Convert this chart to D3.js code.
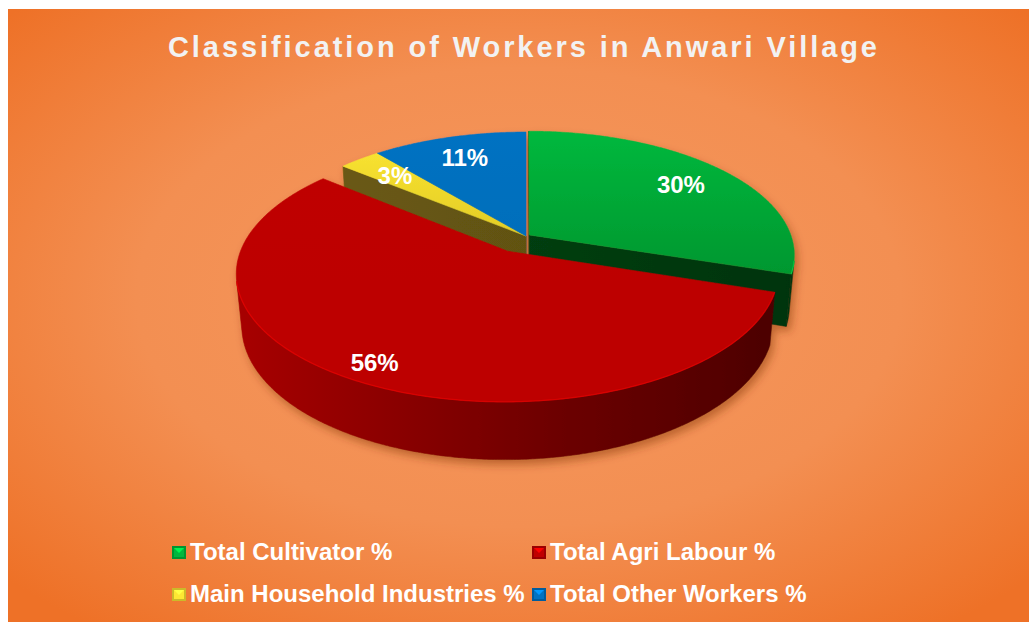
<!DOCTYPE html>
<html>
<head>
<meta charset="utf-8">
<script src="https://cdn.jsdelivr.net/npm/d3@7"></script>
<style>
  html, body { margin: 0; padding: 0; background: #ffffff; }
  svg { display: block; }
</style>
</head>
<body>
<svg id="chart" width="1029" height="622"></svg>
<script>
// ---------------- data ----------------
const title = "Classification of Workers in Anwari Village";
const categories = ["Total Cultivator %", "Total Agri Labour %", "Main Household Industries %", "Total Other Workers %"];
const values = [30, 56, 3, 11];
const valueLabels = ["30%", "56%", "3%", "11%"];

// ---------------- styles ----------------
const style = {
  "Total Cultivator %":          { top: ["#00b83d", "#00952e"], side: ["#004c16", "#00330d"], explode: 4 },
  "Total Agri Labour %":         { top: ["#c00000", "#bd0000"], side: ["#a60000", "#470000"], explode: 37 },
  "Main Household Industries %": { top: ["#fde733", "#d6bf1f"], side: ["#6e5d14", "#57490f"], explode: 0 },
  "Total Other Workers %":       { top: ["#0072c2", "#006cb8"], side: ["#004f8a", "#002f55"], explode: 0 }
};

const W = 1029, H = 622;
const svg = d3.select("#chart");
const defs = svg.append("defs");

// background
const bg = defs.append("radialGradient").attr("id", "bgGrad")
  .attr("cx", 0.5).attr("cy", 0.47).attr("r", 0.68);
bg.append("stop").attr("offset", 0).attr("stop-color", "#f5985f");
bg.append("stop").attr("offset", 0.55).attr("stop-color", "#f38f52");
bg.append("stop").attr("offset", 1).attr("stop-color", "#ee7127");
svg.append("rect").attr("x", 8).attr("y", 9).attr("width", W - 8).attr("height", H - 9)
  .attr("fill", "url(#bgGrad)");

// shadow filter
const flt = defs.append("filter").attr("id", "pieShadow")
  .attr("x", "-10%").attr("y", "-10%").attr("width", "125%").attr("height", "130%");
flt.append("feGaussianBlur").attr("in", "SourceAlpha").attr("stdDeviation", 4).attr("result", "blur");
flt.append("feOffset").attr("in", "blur").attr("dx", 3).attr("dy", 5).attr("result", "off");
flt.append("feFlood").attr("flood-color", "#7a2e00").attr("flood-opacity", 0.45).attr("result", "col");
flt.append("feComposite").attr("in", "col").attr("in2", "off").attr("operator", "in").attr("result", "shadow");
const fm = flt.append("feMerge");
fm.append("feMergeNode").attr("in", "shadow");
fm.append("feMergeNode").attr("in", "SourceGraphic");

// title
svg.append("text")
  .attr("x", 522.5).attr("y", 57)
  .attr("text-anchor", "middle")
  .attr("font-family", "'Liberation Sans', Arial, sans-serif")
  .attr("font-weight", "bold")
  .attr("font-size", 29)
  .attr("fill", "#f2f2f2")
  .attr("textLength", 709).attr("lengthAdjust", "spacing")
  .text(title);

// ---------------- 3D projection ----------------
const R = 262;            // pie radius (world units)
const depth = 58;         // pie thickness
const sinPhi = 0.461, cosPhi = Math.sqrt(1 - sinPhi * sinPhi);
const f = 1440;           // perspective distance
const cam = [0, -f * cosPhi, f * sinPhi];

const sx = d3.scaleLinear().domain([0, 1]).range([526, 527]);
const sy = d3.scaleLinear().domain([0, 1]).range([236, 235]);

function project(p) {
  const [x, y, z] = p;
  const Yp = y * sinPhi + z * cosPhi;
  const D = y * cosPhi - z * sinPhi;
  const s = f / (f + D);
  return [sx(x * s), sy(Yp * s)];
}
function depthOf(p) { return p[1] * cosPhi - p[2] * sinPhi; }

const pie = d3.pie().sort(null).startAngle(0).endAngle(2 * Math.PI).value(d => d);
const arcs = pie(values);
const line = d3.line().curve(d3.curveLinear);

const slices = arcs.map((a, i) => {
  const st = style[categories[i]];
  const mid = (a.startAngle + a.endAngle) / 2;
  const ox = st.explode * Math.sin(mid), oy = st.explode * Math.cos(mid);
  const rim = (t, z) => [ox + R * Math.sin(t), oy + R * Math.cos(t), z];
  const n = Math.max(2, Math.ceil((a.endAngle - a.startAngle) / (Math.PI / 360)));
  const thetas = d3.range(n + 1).map(k => a.startAngle + (a.endAngle - a.startAngle) * k / n);
  return { i, a, st, mid, ox, oy, rim, thetas, cat: categories[i] };
});

// gradients
slices.forEach(s => {
  const g = defs.append("linearGradient").attr("id", "side" + s.i)
    .attr("gradientUnits", "userSpaceOnUse")
    .attr("x1", sx(-R - 20)).attr("x2", sx(R + 20)).attr("y1", 0).attr("y2", 0);
  g.append("stop").attr("offset", 0).attr("stop-color", s.st.side[0]);
  g.append("stop").attr("offset", 0.55).attr("stop-color", d3.interpolateRgb(s.st.side[0], s.st.side[1])(0.6));
  g.append("stop").attr("offset", 1).attr("stop-color", s.st.side[1]);
  const t = defs.append("linearGradient").attr("id", "top" + s.i)
    .attr("gradientUnits", "userSpaceOnUse")
    .attr("x1", 0).attr("x2", 0).attr("y1", sy(R * sinPhi * 0.86)).attr("y2", sy(-R * sinPhi * 0.4));
  t.append("stop").attr("offset", 0).attr("stop-color", s.st.top[0]);
  t.append("stop").attr("offset", 1).attr("stop-color", s.st.top[1]);
});

// collect side faces
const faces = [];
slices.forEach(s => {
  const O = [s.ox, s.oy, 0];
  // radial faces
  [[s.a.startAngle, [-Math.cos(s.a.startAngle), Math.sin(s.a.startAngle)]],
   [s.a.endAngle, [Math.cos(s.a.endAngle), -Math.sin(s.a.endAngle)]]].forEach(([t, nrm]) => {
    const dot = nrm[0] * (cam[0] - O[0]) + nrm[1] * (cam[1] - O[1]);
    if (dot > 0.5) {
      const pts = [O, s.rim(t, 0), s.rim(t, -depth), [s.ox, s.oy, -depth]];
      const d = d3.mean(pts, depthOf);
      faces.push({ pts: pts.map(project), depth: d, fill: "url(#side" + s.i + ")" });
    }
  });
  // outer rim: visible runs
  let run = [];
  const runs = [];
  s.thetas.forEach(t => {
    const P = s.rim(t, 0);
    const dot = Math.sin(t) * (cam[0] - P[0]) + Math.cos(t) * (cam[1] - P[1]);
    if (dot > 0) run.push(t); else { if (run.length > 1) runs.push(run); run = []; }
  });
  if (run.length > 1) runs.push(run);
  runs.forEach(r => {
    const topPts = r.map(t => s.rim(t, 0));
    const botPts = r.map(t => s.rim(t, -depth)).reverse();
    const pts = topPts.concat(botPts);
    faces.push({ pts: pts.map(project), depth: d3.mean(pts, depthOf), fill: "url(#side" + s.i + ")" });
    s.visibleRim = (s.visibleRim || []).concat([topPts.map(project)]);
  });
});
faces.sort((a, b) => b.depth - a.depth);

const pieG = svg.append("g").attr("filter", "url(#pieShadow)");
pieG.selectAll("path.side").data(faces).join("path")
  .attr("class", "side")
  .attr("d", d => line(d.pts) + "Z")
  .attr("fill", d => d.fill)
  .attr("stroke", d => d.fill).attr("stroke-width", 0.6).attr("stroke-linejoin", "round");

// top faces
pieG.selectAll("path.top").data(slices).join("path")
  .attr("class", "top")
  .attr("d", s => line([[s.ox, s.oy, 0]].concat(s.thetas.map(t => s.rim(t, 0))).map(project)) + "Z")
  .attr("fill", s => "url(#top" + s.i + ")")
  .attr("stroke", s => "url(#top" + s.i + ")").attr("stroke-width", 0.6);

// rim highlight along front edge of top faces
slices.forEach(s => {
  (s.visibleRim || []).forEach(pts => {
    pieG.append("path").attr("d", line(pts))
      .attr("fill", "none")
      .attr("stroke", d3.color(s.st.top[0]).brighter(0.7))
      .attr("stroke-opacity", 0.55).attr("stroke-width", 1.3);
  });
});

// value labels
svg.selectAll("text.val").data(slices).join("text")
  .attr("class", "val")
  .each(function (s) {
    const frac = 0.77 + 0.13 * Math.max(0, -Math.cos(s.mid));
    const p = project([s.ox + R * frac * Math.sin(s.mid), s.oy + R * frac * Math.cos(s.mid), 0]);
    d3.select(this).attr("x", p[0]).attr("y", p[1] + 8.5);
  })
  .attr("text-anchor", "middle")
  .attr("font-family", "'Liberation Sans', Arial, sans-serif")
  .attr("font-weight", "bold").attr("font-size", 24)
  .attr("fill", "#ffffff")
  .text(s => valueLabels[s.i]);

// ---------------- legend ----------------
const legendCols = d3.scalePoint().domain([0, 1]).range([172, 532]);
const legendRows = d3.scalePoint().domain([0, 1]).range([560, 602]);
const lg = svg.append("g");
categories.forEach((c, i) => {
  const col = i % 2, row = Math.floor(i / 2);
  const x = legendCols(col), y = legendRows(row);
  const st = style[c];
  const g = lg.append("g");
  const base = d3.color(st.top[0]);
  g.append("rect").attr("x", x).attr("y", y - 14).attr("width", 14).attr("height", 13)
    .attr("fill", base.darker(0.6));
  g.append("rect").attr("x", x + 2).attr("y", y - 12).attr("width", 10).attr("height", 9)
    .attr("fill", base);
  g.append("path").attr("d", `M${x + 2},${y - 12}L${x + 12},${y - 12}L${x + 7},${y - 7}Z`)
    .attr("fill", base.brighter(0.8));
  g.append("text").attr("x", x + 18).attr("y", y)
    .attr("font-family", "'Liberation Sans', Arial, sans-serif")
    .attr("font-weight", "bold").attr("font-size", 24)
    .attr("fill", "#ffffff")
    .text(c);
});
</script>
</body>
</html>
